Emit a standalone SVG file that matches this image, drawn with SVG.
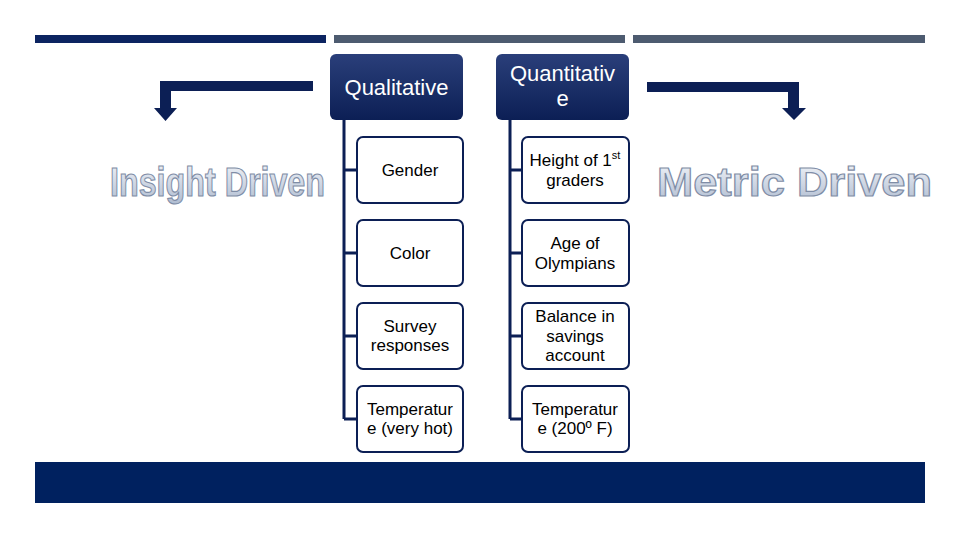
<svg xmlns="http://www.w3.org/2000/svg" width="960" height="540" viewBox="0 0 960 540">
<defs>
<linearGradient id="hg" x1="0" y1="0" x2="0" y2="1"><stop offset="0" stop-color="#2a3f7a"/><stop offset="1" stop-color="#0c1f55"/></linearGradient>
<linearGradient id="tg" x1="0" y1="0" x2="0" y2="1"><stop offset="0" stop-color="#f4f6fa"/><stop offset="1" stop-color="#aebbd0"/></linearGradient>
<style>
.hd{fill:url(#hg);}
.ch{fill:#fff;stroke:#0c1f55;stroke-width:2;}
.ht{font-family:"Liberation Sans",Arial,sans-serif;font-size:22px;fill:#fff;text-anchor:middle;}
.ct{font-family:"Liberation Sans",Arial,sans-serif;font-size:17px;fill:#000;text-anchor:middle;}
.big{font-family:"Liberation Sans",Arial,sans-serif;font-weight:bold;font-size:41px;fill:url(#tg);stroke:#7f8da6;stroke-width:1.2;}
.ln{stroke:#0c1f55;stroke-width:3;fill:none;}
.ar{fill:#0c1f55;}
</style>
</defs>
<rect x="35" y="35" width="291" height="8" fill="#0c2461"/>
<rect x="334" y="35" width="291" height="8" fill="#4d5b70"/>
<rect x="633" y="35" width="292" height="8" fill="#4d5b70"/>
<rect x="35" y="462" width="890" height="41" fill="#00215f"/>
<g id="connectors">
<path class="ln" d="M344 120V419M344 170H357M344 253H357M344 336H357M344 419H357"/>
<path class="ln" d="M510 120V419M510 170H522M510 253H522M510 336H522M510 419H522"/>
<path class="ar" d="M313 81H160V108H154L165.5 121L177 108H171V91H313Z"/>
<path class="ar" d="M647 82H799V108H806L794 120L782 108H788V92H647Z"/>
</g>
<g id="qualitative"><rect class="hd" x="330" y="54" width="133" height="66" rx="6"/><text class="ht" x="396.5" y="95">Qualitative</text></g>
<g id="quantitative"><rect class="hd" x="496" y="54" width="133" height="66" rx="6"/><text class="ht" x="562.5" y="81">Quantitativ</text><text class="ht" x="562.5" y="106">e</text></g>
<g id="gender"><rect class="ch" x="357" y="137" width="106" height="66" rx="6"/><text class="ct" x="410" y="176">Gender</text></g>
<g id="color"><rect class="ch" x="357" y="220" width="106" height="66" rx="6"/><text class="ct" x="410" y="259">Color</text></g>
<g id="survey"><rect class="ch" x="357" y="303" width="106" height="66" rx="6"/><text class="ct" x="410" y="332">Survey</text><text class="ct" x="410" y="351">responses</text></g>
<g id="temp1"><rect class="ch" x="357" y="386" width="106" height="66" rx="6"/><text class="ct" x="410" y="415">Temperatur</text><text class="ct" x="410" y="434">e (very hot)</text></g>
<g id="height"><rect class="ch" x="522" y="137" width="107" height="66" rx="6"/><text class="ct" x="575" y="166">Height of 1<tspan font-size="11" dy="-7">st</tspan></text><text class="ct" x="575" y="186">graders</text></g>
<g id="age"><rect class="ch" x="522" y="220" width="107" height="66" rx="6"/><text class="ct" x="575" y="249">Age of</text><text class="ct" x="575" y="269">Olympians</text></g>
<g id="balance"><rect class="ch" x="522" y="303" width="107" height="66" rx="6"/><text class="ct" x="575" y="322">Balance in</text><text class="ct" x="575" y="342">savings</text><text class="ct" x="575" y="361">account</text></g>
<g id="temp2"><rect class="ch" x="522" y="386" width="107" height="66" rx="6"/><text class="ct" x="575" y="415">Temperatur</text><text class="ct" x="575" y="434">e (200º F)</text></g>
<text class="big" x="110" y="196" textLength="215" lengthAdjust="spacingAndGlyphs">Insight Driven</text>
<text class="big" x="657" y="196" textLength="275" lengthAdjust="spacingAndGlyphs">Metric Driven</text>
</svg>
